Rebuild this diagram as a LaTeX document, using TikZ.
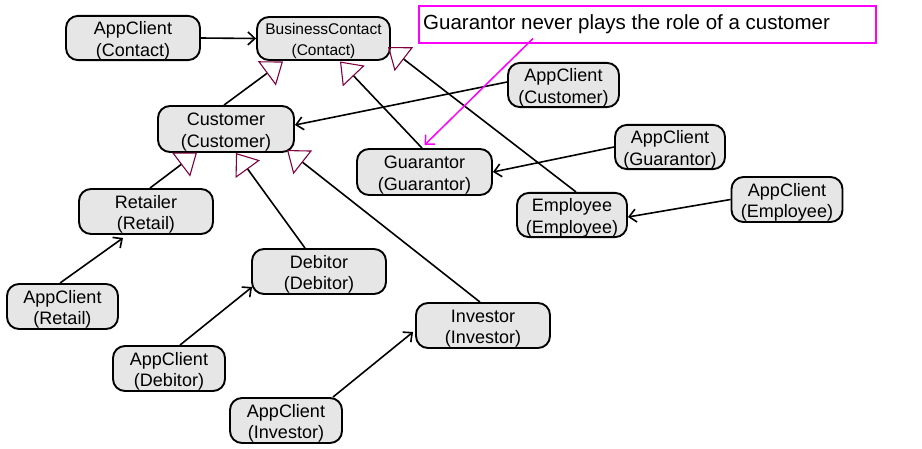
\documentclass[tikz,border=0pt]{standalone}
\usepackage{fontspec}
\setmainfont{Liberation Sans}
\usetikzlibrary{arrows.meta}
\definecolor{boxfill}{RGB}{230,230,230}
\definecolor{tipmaroon}{RGB}{128,0,64}
\definecolor{notemagenta}{RGB}{255,0,255}
\newcommand{\toppad}{\rule{0pt}{19pt}}
\newcommand{\toppadsmall}{\rule{0pt}{16pt}}
\begin{document}
\begin{tikzpicture}[x=1pt,y=-1pt,
  obj/.style={draw, line width=1.9pt, fill=boxfill, rounded corners=12pt, align=center, inner sep=0pt, font=\fontsize{18}{21.5}\selectfont},
  wide/.style={minimum width=134pt, minimum height=45pt},
  narrow/.style={minimum width=111pt, minimum height=45pt},
  uses/.style={line width=1.6pt, -{Straight Barb[length=7pt,width=13pt,line width=1.6pt]}},
  inherit/.style={line width=1.6pt, -{Triangle[open,length=20pt,width=30pt,line width=1.1pt,color=tipmaroon]}},
  notearrow/.style={notemagenta, line width=1.5pt, -{Straight Barb[length=7pt,width=13pt,line width=1.5pt]}},
]
\useasboundingbox (0,0) rectangle (922,448);

% nodes
\node[obj, wide, minimum height=44pt] (acc) at (133,38) {\toppad AppClient\\(Contact)};
\node[obj, minimum width=133pt, minimum height=43pt, font=\fontsize{15.5}{20.5}\selectfont] (bc) at (323.5,38.5) {\toppadsmall BusinessContact\\(Contact)};
\node[obj, minimum width=136pt, minimum height=46pt] (cust) at (226,129) {\toppad Customer\\(Customer)};
\node[obj, narrow, minimum height=44pt] (accust) at (563.5,85) {\toppad AppClient\\(Customer)};
\node[obj, minimum width=110pt, minimum height=44pt] (acguar) at (670,147) {\toppad AppClient\\(Guarantor)};
\node[obj, narrow] (acemp) at (787,199.5) {\toppad AppClient\\(Employee)};
\node[obj, minimum width=110pt, minimum height=44pt] (emp) at (572,215) {\toppad Employee\\(Employee)};
\node[obj, minimum width=135pt, minimum height=46pt] (guar) at (424.5,172) {\toppad Guarantor\\(Guarantor)};
\node[obj, wide] (ret) at (146,211.5) {\toppad Retailer\\(Retail)};
\node[obj, narrow] (acret) at (62.5,306.5) {\toppad AppClient\\(Retail)};
\node[obj, wide] (deb) at (319,271.5) {\toppad Debitor\\(Debitor)};
\node[obj, minimum width=112pt, minimum height=45pt] (acdeb) at (169,368.5) {\toppad AppClient\\(Debitor)};
\node[obj, wide] (inv) at (483,325.5) {\toppad Investor\\(Investor)};
\node[obj, minimum width=112pt, minimum height=45pt] (acinv) at (286,420.5) {\toppad AppClient\\(Investor)};

% callout
\node[draw=notemagenta, line width=1.5pt, minimum width=457pt, minimum height=37pt, inner sep=0pt, anchor=north west] (note) at (418,5) {};
\node[anchor=base west, inner sep=0pt, font=\fontsize{20.5}{24}\selectfont] (notetext) at (423,29) {Guarantor never plays the role of a customer};

% inheritance
\draw[inherit] ([xshift=-2pt]cust.north) -- ([xshift=-40.5pt,yshift=-23pt]bc.center);
\draw[inherit] ([xshift=-2.5pt]guar.north) -- ([xshift=16.5pt,yshift=-23pt]bc.center);
\draw[inherit] ([xshift=4pt]emp.north) -- ([xshift=64.5pt,yshift=-8.5pt]bc.center);
\draw[inherit] ([xshift=4pt]ret.north) -- ([xshift=-29pt,yshift=-23.5pt]cust.center);
\draw[inherit] ([xshift=-14pt]deb.north) -- ([xshift=10pt,yshift=-24pt]cust.center);
\draw[inherit] ([xshift=-3pt]inv.north) -- ([xshift=61pt,yshift=-21pt]cust.center);

% uses
\draw[uses] (acc.east) -- (bc.west);
\draw[uses] ([yshift=3pt]accust.west) -- ([yshift=4pt]cust.east);
\draw[uses] (acguar.west) -- (guar.east);
\draw[uses] (acemp.west) -- ([yshift=-2pt]emp.east);
\draw[uses] ([xshift=-2.5pt]acret.north) -- ([xshift=-23pt,yshift=-3pt]ret.south);
\draw[uses] ([xshift=11pt]acdeb.north) -- ([xshift=1pt,yshift=-15.5pt]deb.west);
\draw[uses] ([xshift=47pt]acinv.north) -- ([xshift=-2pt,yshift=-6.5pt]inv.west);

% callout arrow
\draw[notearrow] ([xshift=115pt,yshift=5pt]note.south west) -- ([yshift=3pt]guar.north);
\end{tikzpicture}
\end{document}
